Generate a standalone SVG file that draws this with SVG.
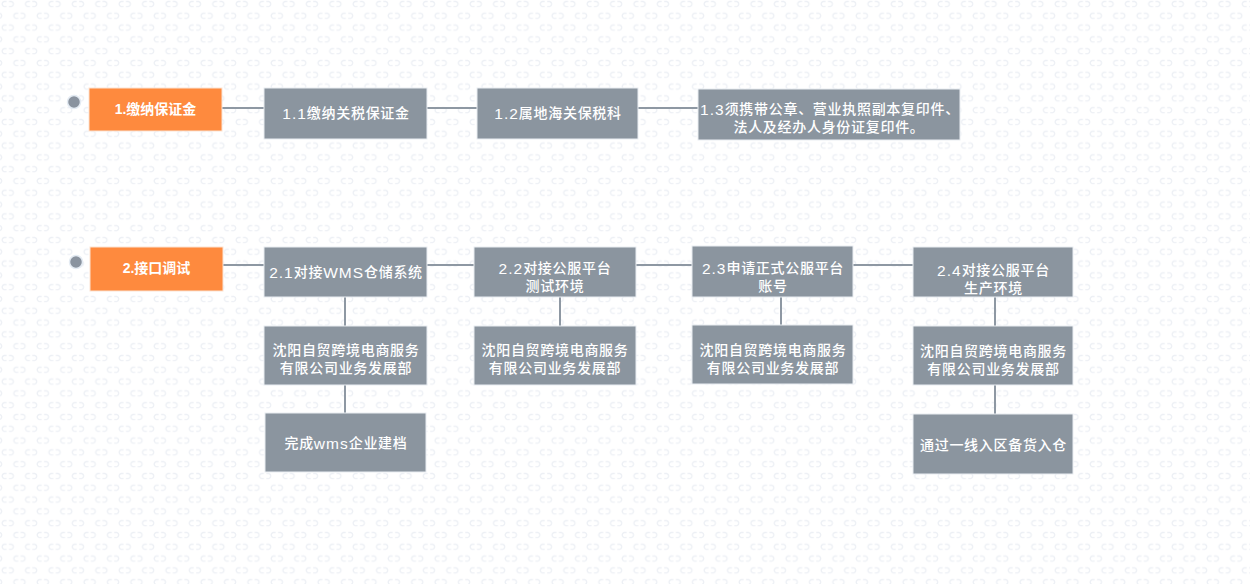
<svg xmlns="http://www.w3.org/2000/svg" width="1250" height="584" viewBox="0 0 1250 584">
<style>
.box{fill:#8b959f;stroke:#e9edf2;stroke-width:1}
.obox{fill:#fe8a3e;stroke:#fbe3d3;stroke-width:1}
.t{font-family:"Liberation Sans","Noto Sans CJK SC",sans-serif;font-size:14px;font-weight:500;letter-spacing:0.7px;fill:#ffffff;text-anchor:middle;dominant-baseline:central}
.l{font-size:15.5px;letter-spacing:1px}
.ot{font-family:"Liberation Sans","Noto Sans CJK SC",sans-serif;font-size:14px;font-weight:bold;fill:#ffffff;text-anchor:middle;dominant-baseline:central}
.c{fill:none;stroke:#8e98a3;stroke-width:2}
.dot{fill:#8a939f;stroke:#e4ebf3;stroke-width:1.5}
.m{fill:none;stroke:#edf0f5;stroke-width:1.4}
</style>
<defs>
<pattern id="bg" width="23.4" height="23.6" patternUnits="userSpaceOnUse">
<g id="mo">
<path class="m" d="M6.5,1.5 H4 A2.6,2.6 0 0 0 4,6.5 H6.5"/>
<path class="m" d="M9,1.5 H11.5 A2.6,2.6 0 0 1 11.5,6.5 H9"/>
</g>
<use href="#mo" x="11.7" y="11.8"/>
<use href="#mo" x="-11.7" y="11.8"/>
</pattern>
</defs>
<rect width="1250" height="584" fill="#ffffff"/>
<rect width="1250" height="584" fill="url(#bg)"/>

<g id="connectors">
<path class="c" d="M222,108 H264 M427,108 H477 M638,108 H698"/>
<path class="c" d="M223,265 H264 M427,265 H474 M636,265 H692 M853,265 H913"/>
<path class="c" d="M345,297 V326 M345,385 V413 M560,297 V326 M781,297 V325 M995,297 V326 M995,385 V414"/>
</g>

<g id="dot1"><circle class="dot" cx="74" cy="102" r="6.5"/></g>
<g id="dot2"><circle class="dot" cx="76" cy="262" r="6.5"/></g>

<g id="n1"><rect class="obox" x="89" y="88" width="133" height="43"/><text class="ot" x="155.5" y="109">1.缴纳保证金</text></g>
<g id="n1-1"><rect class="box" x="264" y="88" width="163" height="51"/><text class="t" x="346" y="113"><tspan class="l">1.1</tspan>缴纳关税保证金</text></g>
<g id="n1-2"><rect class="box" x="477" y="88" width="161" height="51"/><text class="t" x="558" y="113"><tspan class="l">1.2</tspan>属地海关保税科</text></g>
<g id="n1-3"><rect class="box" x="698" y="89" width="262" height="51"/><text class="t" x="830" y="109"><tspan class="l">1.3</tspan>须携带公章、营业执照副本复印件、</text><text class="t" x="829" y="127">法人及经办人身份证复印件。</text></g>

<g id="n2"><rect class="obox" x="90" y="247" width="133" height="44"/><text class="ot" x="156.5" y="268">2.接口调试</text></g>
<g id="n2-1"><rect class="box" x="264" y="247" width="163" height="50"/><text class="t" x="346" y="272"><tspan class="l">2.1</tspan>对接<tspan class="l">WMS</tspan>仓储系统</text></g>
<g id="n2-1a"><rect class="box" x="264" y="326" width="163" height="59"/><text class="t" x="346" y="350">沈阳自贸跨境电商服务</text><text class="t" x="346" y="368">有限公司业务发展部</text></g>
<g id="n2-1b"><rect class="box" x="265" y="413" width="161" height="59"/><text class="t" x="346" y="443">完成<tspan class="l">wms</tspan>企业建档</text></g>

<g id="n2-2"><rect class="box" x="474" y="247" width="162" height="50"/><text class="t" x="555" y="268"><tspan class="l">2.2</tspan>对接公服平台</text><text class="t" x="555" y="286">测试环境</text></g>
<g id="n2-2a"><rect class="box" x="474" y="326" width="162" height="59"/><text class="t" x="555" y="350">沈阳自贸跨境电商服务</text><text class="t" x="555" y="368">有限公司业务发展部</text></g>

<g id="n2-3"><rect class="box" x="692" y="246" width="161" height="51"/><text class="t" x="773" y="268"><tspan class="l">2.3</tspan>申请正式公服平台</text><text class="t" x="773" y="286">账号</text></g>
<g id="n2-3a"><rect class="box" x="692" y="325" width="161" height="59"/><text class="t" x="773" y="350">沈阳自贸跨境电商服务</text><text class="t" x="773" y="368">有限公司业务发展部</text></g>

<g id="n2-4"><rect class="box" x="913" y="247" width="160" height="50"/><text class="t" x="993.5" y="270"><tspan class="l">2.4</tspan>对接公服平台</text><text class="t" x="993.5" y="288">生产环境</text></g>
<g id="n2-4a"><rect class="box" x="913" y="326" width="160" height="59"/><text class="t" x="993.5" y="351">沈阳自贸跨境电商服务</text><text class="t" x="993.5" y="369">有限公司业务发展部</text></g>
<g id="n2-4b"><rect class="box" x="913" y="414" width="160" height="60"/><text class="t" x="993.5" y="445">通过一线入区备货入仓</text></g>
</svg>
